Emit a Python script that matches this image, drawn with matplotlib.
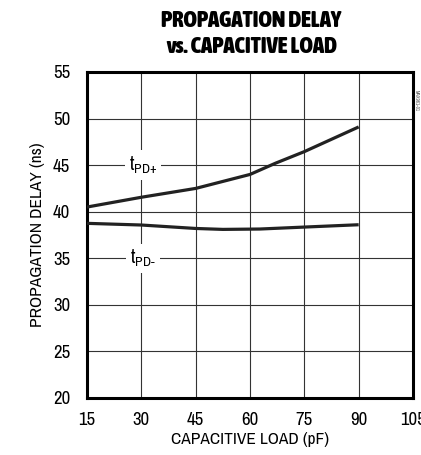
import matplotlib
matplotlib.use('Agg')
import matplotlib.pyplot as plt
from matplotlib import font_manager

# ── 数据─────────────────────────────────────
cap_load = [15, 30, 45, 56, 60, 67, 75, 90]
tpd_plus = [40.5, 41.55, 42.5, 43.6, 44.0, 45.2, 46.45, 49.1]

cap_load_m = [15, 30, 45, 52.5, 62.7, 75, 90]
tpd_minus = [38.75, 38.57, 38.2, 38.1, 38.14, 38.35, 38.6]

x_ticks = [15, 30, 45, 60, 75, 90, 105]
y_ticks = [20, 25, 30, 35, 40, 45, 50, 55]

# 找一个窄体字体（Narrow / Condensed），找不到就用 DejaVu Sans
fonts = font_manager.fontManager.ttflist
names = sorted({f.name for f in fonts})
narrow = [n for n in names if 'Narrow' in n or 'Condensed' in n]
FONT = narrow[:1] + ['DejaVu Sans']
plt.rcParams['font.family'] = FONT
plt.rcParams['mathtext.fontset'] = 'custom'
plt.rcParams['mathtext.rm'] = FONT[0]
plt.rcParams['mathtext.it'] = FONT[0]

# 标题用粗体窄字体
bold_files = [f.fname for f in fonts
              if ('Narrow' in f.name or 'Condensed' in f.name)
              and f.weight in ('bold', 'heavy', 'black', 700, 800, 900)
              and f.style == 'normal']
if bold_files:
    title_fp = font_manager.FontProperties(fname=sorted(bold_files)[0], size=16.5)
else:
    title_fp = font_manager.FontProperties(family=FONT, weight='bold', size=15)

fig = plt.figure(figsize=(4.21, 4.55), dpi=100)
ax = fig.add_axes([0.2067, 0.1253, 0.7743, 0.7165])

ax.plot(cap_load, tpd_plus, color='#222222', lw=2.3, solid_capstyle='butt', zorder=3)
ax.plot(cap_load_m, tpd_minus, color='#222222', lw=2.3, solid_capstyle='butt', zorder=3)

ax.set_xlim(15, 105)
ax.set_ylim(20, 55)
ax.set_xticks(x_ticks)
ax.set_yticks(y_ticks)
ax.grid(True, color='#333333', lw=0.8)
ax.tick_params(axis='x', length=0, labelsize=13.5, pad=10)
ax.tick_params(axis='y', length=0, labelsize=13.5, pad=12)
for sp in ax.spines.values():
    sp.set_linewidth(2.2)
    sp.set_color('black')

ax.set_xlabel('CAPACITIVE LOAD (pF)', fontsize=12.5, labelpad=3)
ax.set_ylabel('PROPAGATION DELAY (ns)', fontsize=12.5, labelpad=6)

# 曲线标签（白底压住网格线）
ax.text(30.5, 45, r'$\mathregular{t_{\text{PD+}}}$', fontsize=14, ha='center', va='center',
        bbox=dict(facecolor='white', edgecolor='none', pad=3), zorder=4)
ax.text(30.5, 35, r'$\mathregular{t_{\text{PD-}}}$', fontsize=14, ha='center', va='center',
        bbox=dict(facecolor='white', edgecolor='none', pad=3), zorder=4)

fig.text(0.597, 0.953, 'PROPAGATION DELAY', fontproperties=title_fp,
         ha='center', va='center')
fig.text(0.597, 0.896, 'vs. CAPACITIVE LOAD', fontproperties=title_fp,
         ha='center', va='center')

fig.text(0.988, 0.78, 'MAX961-01', fontsize=3.5, rotation=-90, ha='center',
         va='center', color='#555555')

fig.savefig('out.png', dpi=100)
